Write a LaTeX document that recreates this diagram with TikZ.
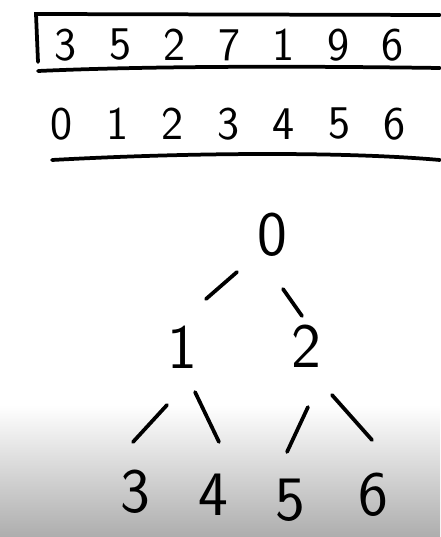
\documentclass[tikz,border=0pt]{standalone}
\usetikzlibrary{arrows}
\usetikzlibrary{positioning}
\tikzset{
    digit/.style={
           font=\sffamily\fontsize{40}{40}\selectfont,
           inner sep=0pt,
           text centered,
           },
    key/.style={
           digit,
           font=\sffamily\fontsize{54}{54}\selectfont,
           },
    pen/.style={
           line width=3.2pt,
           line cap=round,
           },
}

\begin{document}
\begin{tikzpicture}[x=0.03cm,y=-0.03cm]
 \useasboundingbox (0,0) rectangle (440,537);
 \shade[top color=white, bottom color=black!32] (0,405) rectangle (440,537);

 % the array
 \draw[pen] (440,15) -- (36,14) -- (38,62);
 \draw[pen] (38,71) .. controls (150,66) and (300,66) .. (440,68);
 \foreach \v [count=\i from 0] in {3,5,2,7,1,9,6}
   \node[digit] (A\i) at (66+54.5*\i,45) {\v};

 % the indices
 \foreach \v [count=\i from 0] in {0,1,2,3,4,5,6}
   \node[digit] (I\i) at (62+55.5*\i,124) {\v};
 \draw[pen] (52,160) .. controls (200,152) and (350,152) .. (440,160);

 % the heap as a tree
 \node[key] (K0) at (272,235) {0};
 \node[key] (K1) at (182,347) {1};
 \node[key] (K2) at (306,346) {2};
 \node[key] (K3) at (135,492) {3};
 \node[key] (K4) at (213,495) {4};
 \node[key] (K5) at (290,500) {5};
 \node[key] (K6) at (373,495) {6};

 \draw[pen] ([shift={(-35,37)}]K0.center) -- ([shift={(24,-48)}]K1.center);
 \draw[pen] ([shift={(11,54)}]K0.center) -- ([shift={(-4,-30)}]K2.center);
 \draw[pen] ([shift={(-15,58)}]K1.center) -- ([shift={(-2,-50)}]K3.center);
 \draw[pen] ([shift={(13,45)}]K1.center) -- ([shift={(6,-53)}]K4.center);
 \draw[pen] ([shift={(2,61)}]K2.center) -- ([shift={(-3,-48)}]K5.center);
 \draw[pen] ([shift={(26,49)}]K2.center) -- ([shift={(-1,-55)}]K6.center);
\end{tikzpicture}
\end{document}
